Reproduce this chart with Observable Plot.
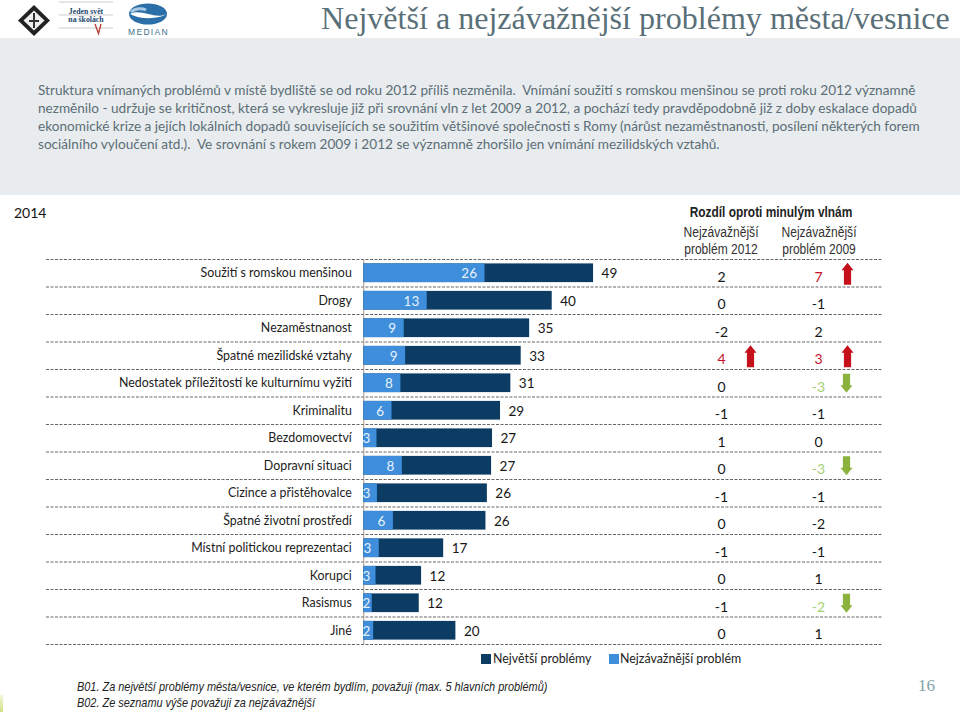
<!DOCTYPE html>
<html lang="cs">
<head>
<meta charset="utf-8">
<script src="https://cdn.jsdelivr.net/npm/d3@7"></script>
<script src="https://cdn.jsdelivr.net/npm/@observablehq/plot@0.6"></script>
<style>
html,body{margin:0;padding:0;background:#fff}
#page{position:relative;width:960px;height:712px;overflow:hidden;font-family:Lato,sans-serif}
#page>div,#page>svg{position:absolute}
.t{white-space:pre;line-height:1}
.body{left:38px;font-size:13.6px;color:#5c6e76}
.nar{font-family:"Liberation Sans",Arial,sans-serif;transform-origin:50% 50%;text-align:center;width:200px}
.foot{left:77px;font-family:"Liberation Sans",Arial,sans-serif;font-style:italic;font-size:13px;color:#222;transform:scaleX(.84);transform-origin:0 50%}
</style>
</head>
<body>
<div id="page">
  <div style="left:0;top:38px;width:960px;height:157px;background:#e8ecef"></div>
  <div style="left:0;top:695px;width:3px;height:17px;background:linear-gradient(#f4f6d8,#cfe08a)"></div>

  <svg style="left:0;top:0" width="175" height="38" viewBox="0 0 175 38">
    <path d="M34 5L50 20.5L34 36L18 20.5Z" fill="#222"/>
    <path d="M34 10.5L44.5 20.5L34 30.5L23.5 20.5Z" fill="#eee"/>
    <path d="M34 13V28M29 21h10" stroke="#333" stroke-width="2"/>
    <path d="M59 2H113M59 15H113M59 28H113" stroke="#ccc" stroke-width="1"/>
    <text x="86" y="13.500" text-anchor="middle" font-family="Liberation Serif" font-weight="700" font-size="7.800" fill="#24466e">Jeden svět</text>
    <text x="86" y="22" text-anchor="middle" font-family="Liberation Serif" font-weight="700" font-size="7.800" fill="#24466e">na školách</text>
    <path d="M95 24L98.500 33.500L101 24" fill="none" stroke="#b53a34" stroke-width="1.300"/>
    <ellipse cx="148" cy="14" rx="19" ry="10.500" fill="#2a6fa8"/>
    <path d="M130 14C140 8 156 20 166 14C160 19 140 20 130 14Z" fill="#fff"/>
    <path d="M131 12C135 8 142 8 146 10" stroke="#a8c8e4" stroke-width="3" fill="none"/>
    <text x="148.500" y="35" text-anchor="middle" font-family="Liberation Sans" font-size="8.500" letter-spacing="1.300" fill="#3f7088">MEDIAN</text>
  </svg>

  <div class="t" id="title" style="left:321px;top:2px;font-family:'Liberation Serif',serif;font-size:32.100px;color:#5a7078">Největší a nejzávažnější problémy města/vesnice</div>

  <div class="t body" style="top:84px">Struktura vnímaných problémů v místě bydliště se od roku 2012 příliš nezměnila.  Vnímání soužití s romskou menšinou se proti roku 2012 významně</div>
  <div class="t body" style="top:102px">nezměnilo - udržuje se kritičnost, která se vykresluje již při srovnání vln z let 2009 a 2012, a pochází tedy pravděpodobně již z doby eskalace dopadů</div>
  <div class="t body" style="top:120px">ekonomické krize a jejích lokálních dopadů souvisejících se soužitím většinové společnosti s Romy (nárůst nezaměstnanosti, posílení některých forem</div>
  <div class="t body" style="top:138px">sociálního vyloučení atd.).  Ve srovnání s rokem 2009 i 2012 se významně zhoršilo jen vnímání mezilidských vztahů.</div>

  <div class="t" style="left:14px;top:206px;font-size:14px;color:#111">2014</div>

  <div class="t nar" style="left:670.500px;top:205px;font-size:14.500px;font-weight:700;color:#222;transform:scaleX(.82)">Rozdíl oproti minulým vlnám</div>
  <div class="t nar" style="left:621px;top:225px;font-size:14px;color:#333;transform:scaleX(.86)">Nejzávažnější</div>
  <div class="t nar" style="left:621px;top:242px;font-size:14px;color:#333;transform:scaleX(.86)">problém 2012</div>
  <div class="t nar" style="left:719px;top:225px;font-size:14px;color:#333;transform:scaleX(.86)">Nejzávažnější</div>
  <div class="t nar" style="left:719px;top:242px;font-size:14px;color:#333;transform:scaleX(.86)">problém 2009</div>

  <div style="left:481px;top:654px;width:10px;height:10px;background:#0c3c64"></div>
  <div class="t" style="left:493px;top:653px;font-size:12.400px;color:#222">Největší problémy</div>
  <div style="left:609px;top:654px;width:10px;height:10px;background:#3e8edb"></div>
  <div class="t" style="left:620px;top:653px;font-size:12.400px;color:#222">Nejzávažnější problém</div>

  <div class="t foot" style="top:680px">B01. Za největší problémy města/vesnice, ve kterém bydlím, považuji (max. 5 hlavních problémů)</div>
  <div class="t foot" style="top:696px">B02. Ze seznamu výše považuji za nejzávažnější</div>
  <div class="t" style="left:918px;top:677px;font-family:'Liberation Serif',serif;font-size:17px;color:#7fa3ab">16</div>
</div>

<script>
const problems = ["Soužití s romskou menšinou","Drogy","Nezaměstnanost","Špatné mezilidské vztahy","Nedostatek příležitostí ke kulturnímu vyžití","Kriminalitu","Bezdomovectví","Dopravní situaci","Cizince a přistěhovalce","Špatné životní prostředí","Místní politickou reprezentaci","Korupci","Rasismus","Jiné"];
const biggest = [48.9,40.1,35.3,33.5,31.3,29.1,27.4,27.2,26.3,26.0,17.0,12.3,11.8,19.6];
const mostSerious = [25.8,13.5,8.6,8.9,7.9,6.0,2.8,8.2,2.9,6.3,3.3,2.6,1.8,2.1];
const biggestLabels = [49,40,35,33,31,29,27,27,26,26,17,12,12,20];
const seriousLabels = [26,13,9,9,8,6,3,8,3,6,3,3,2,2];
const diff2012 = [2,0,-2,4,0,-1,1,0,-1,0,-1,0,-1,0];
const diff2009 = [7,-1,2,3,-3,-1,0,-3,-1,-2,-1,1,-2,1];
const signal2012 = [0,0,0,1,0,0,0,0,0,0,0,0,0,0];
const signal2009 = [1,0,0,1,-1,0,0,-1,0,0,0,0,-1,0];

const DARK = "#0c3c64", LIGHT = "#3e8edb";
const rows = problems.map((name,i)=>({name,big:biggest[i],ser:mostSerious[i],bigL:biggestLabels[i],serL:seriousLabels[i]}));
const cells = problems.flatMap((name,i)=>[
  {name,col:"2012",v:diff2012[i],s:signal2012[i]},
  {name,col:"2009",v:diff2009[i],s:signal2009[i]}
]);
const tone = s => s>0 ? "#c5112a" : s<0 ? "#a3cf74" : "#161616";
const arrowShape = {draw(ctx,l){
  const h=7.5,w=6,s=3.6;
  ctx.moveTo(-s,0);ctx.lineTo(s,0);ctx.lineTo(s,-l+h);ctx.lineTo(w,-l+h);
  ctx.lineTo(0,-l);ctx.lineTo(-w,-l+h);ctx.lineTo(-s,-l+h);ctx.closePath();
}};
const yOpts = {type:"band",domain:problems,padding:0,round:false};
const base = {width:960,height:404,marginTop:9,marginBottom:10,style:{background:"transparent",overflow:"visible"}};

const table = Plot.plot({...base,marginLeft:46,marginRight:78,
  x:{type:"point",domain:["2012","2009"],range:[721,818],padding:0,round:false,axis:null},
  y:{...yOpts,axis:null},
  marks:[
    Plot.ruleY(problems,{y:d=>d,dy:-13.75,stroke:"#666",strokeWidth:1,strokeDasharray:"3 1.5"}),
    Plot.ruleY(problems.slice(-1),{y:d=>d,dy:13.75,stroke:"#666",strokeWidth:1,strokeDasharray:"3 1.5"}),
    Plot.text(cells,{x:"col",y:"name",text:d=>String(d.v),dy:4,fontSize:14,fontFamily:"Lato",
      fontWeight:d=>d.s?700:400,fill:d=>tone(d.s)}),
    Plot.vector(cells.filter(d=>d.s>0),{x:"col",y:"name",dx:29,dy:0.500,rotate:0,length:22,shape:arrowShape,fill:"#c5111c",stroke:"none"}),
    Plot.vector(cells.filter(d=>d.s<0),{x:"col",y:"name",dx:28,dy:0,rotate:180,length:19,shape:arrowShape,fill:"#8bb23d",stroke:"none"})
  ]});

const chart = Plot.plot({...base,marginLeft:363.3,marginRight:0,
  x:{domain:[0,127],axis:null},
  y:{...yOpts,label:null},
  marks:[
    Plot.axisY({tickSize:0,tickPadding:12,label:null,fontSize:12.400,fontFamily:"Lato",color:"#1c1c1c"}),
    Plot.ruleX([0],{stroke:"#a8968c",strokeWidth:1}),
    Plot.barX(rows,{x:"big",y:"name",fill:DARK,insetTop:4.400,insetBottom:4.400}),
    Plot.barX(rows,{x:"ser",y:"name",fill:LIGHT,insetTop:4.400,insetBottom:4.400}),
    Plot.text(rows,{x:d=>Math.max(d.ser,3.1),y:"name",text:d=>String(d.serL),dx:-8,dy:0.500,textAnchor:"end",fill:"#e8f2fb",fontSize:13.500,fontFamily:"Lato"}),
    Plot.text(rows,{x:"big",y:"name",text:d=>String(d.bigL),dx:8,dy:0.500,textAnchor:"start",fill:"#161616",fontSize:13.500,fontFamily:"Lato"})
  ]});

for (const el of [table,chart]) { el.style.left="0"; el.style.top="250px"; document.getElementById("page").append(el); }
</script>
</body>
</html>
